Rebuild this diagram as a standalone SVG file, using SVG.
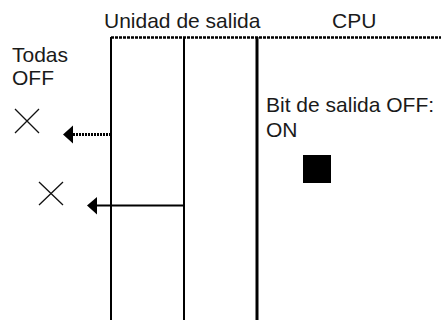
<svg xmlns="http://www.w3.org/2000/svg" width="441" height="320" viewBox="0 0 441 320">
<style>
text{font-family:"Liberation Sans",Arial,sans-serif;font-size:21px;fill:#1a1a1a}
.ln{stroke:#000;fill:none}
.x{stroke:#111;stroke-width:1.3;fill:none}
</style>
<rect width="441" height="320" fill="#fff"/>
<g id="labels">
<text x="104" y="28">Unidad de salida</text>
<text x="332" y="28">CPU</text>
<text x="12" y="62">Todas</text>
<text x="12" y="85">OFF</text>
<text x="266" y="112">Bit de salida OFF:</text>
<text x="266" y="137">ON</text>
</g>
<g id="unit">
<line class="ln" x1="111" y1="37.5" x2="441" y2="37.5" stroke-width="2.5" stroke-dasharray="3 1"/>
<line class="ln" x1="111" y1="37" x2="111" y2="320" stroke-width="2"/>
<line class="ln" x1="184" y1="37" x2="184" y2="320" stroke-width="2"/>
<line class="ln" x1="257" y1="37" x2="257" y2="320" stroke-width="3"/>
</g>
<g id="bit">
<rect x="303" y="155" width="28" height="28" fill="#000"/>
</g>
<g id="marks">
<path class="x" d="M15 109L39 133M39 109L15 133"/>
<path class="x" d="M39 182L63 205M63 182L39 205"/>
</g>
<g id="connectors">
<line class="ln" x1="111" y1="134.5" x2="72" y2="134.5" stroke-width="3" stroke-dasharray="2 1"/>
<polygon points="63,134.5 73,125.5 73,143.5" fill="#000"/>
<line class="ln" x1="184" y1="205.5" x2="96" y2="205.5" stroke-width="2"/>
<polygon points="87,205.5 97,197 97,214.5" fill="#000"/>
</g>
</svg>
